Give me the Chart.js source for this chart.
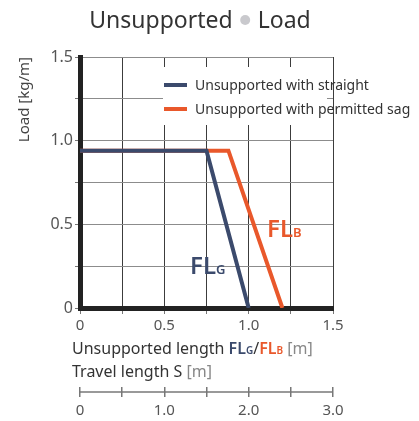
<!DOCTYPE html>
<html>
<head>
<meta charset="utf-8">
<script src="https://cdn.jsdelivr.net/npm/chart.js@4.4.0/dist/chart.umd.min.js"></script>
<style>
body { margin: 0; background: #fff; }
#wrap { width: 419px; height: 421px; }
</style>
</head>
<body>
<div id="wrap"><canvas id="loadChart"></canvas></div>
<script>
// values
const seriesNames = ['Unsupported with straight', 'Unsupported with permitted sag'];
const straightLength = [0, 0.75, 1.0];
const straightLoad = [0.94, 0.94, 0];
const sagLength = [0, 0.88, 1.2];
const sagLoad = [0.94, 0.94, 0];
const lengthTicks = ['0', '0.5', '1.0', '1.5'];
const loadTicks = ['0', '0.5', '1.0', '1.5'];
const travelTicks = ['0', '1.0', '2.0', '3.0'];

const navy = '#3b4a6c';
const orange = '#e9582b';
const FONT = '"Noto Sans", sans-serif';

Chart.defaults.font.family = FONT;

function pts(xs, ys) {
    return xs.map((x, i) => ({x: x, y: ys[i]}));
}

// draw text pieces one after another, returns end x
function runs(ctx, x, y, parts) {
    parts.forEach(p => {
        ctx.font = p.font;
        ctx.fillStyle = p.color;
        ctx.fillText(p.text, x, y);
        x += ctx.measureText(p.text).width;
    });
    return x;
}

const extras = {
    id: 'extras',
    afterDraw(chart) {
        const ctx = chart.ctx;
        const x2 = chart.scales.x2;
        ctx.save();
        ctx.textBaseline = 'alphabetic';

        // title
        ctx.font = '23px ' + FONT;
        const wU = ctx.measureText('Unsupported').width;
        const wL = ctx.measureText('Load').width;
        let tx = 200 - (wU + 25 + wL) / 2;
        ctx.fillStyle = '#333';
        ctx.fillText('Unsupported', tx, 28);
        ctx.beginPath();
        ctx.arc(tx + wU + 12.5, 20, 5, 0, Math.PI * 2);
        ctx.fillStyle = '#c9c9cd';
        ctx.fill();
        ctx.fillStyle = '#333';
        ctx.fillText('Load', tx + wU + 25, 28);

        // legend
        ctx.fillStyle = '#fff';
        ctx.fillRect(163, 67, 164, 58);
        chart.data.datasets.forEach((ds, i) => {
            const y = 85 + i * 24;
            ctx.strokeStyle = ds.borderColor;
            ctx.lineWidth = 4;
            ctx.beginPath();
            ctx.moveTo(164, y);
            ctx.lineTo(187, y);
            ctx.stroke();
            ctx.font = '14px ' + FONT;
            ctx.fillStyle = '#333';
            ctx.fillText(ds.label, 195, y + 5);
        });

        // curve labels
        runs(ctx, 190, 274, [
            {text: 'FL', font: '600 24px ' + FONT, color: navy},
            {text: 'G', font: '600 13px ' + FONT, color: navy}
        ]);
        runs(ctx, 267, 237, [
            {text: 'FL', font: '600 24px ' + FONT, color: orange},
            {text: 'B', font: '600 13px ' + FONT, color: orange}
        ]);

        // axis titles under the x axis
        runs(ctx, 72, 354, [
            {text: 'Unsupported length ', font: '16px ' + FONT, color: '#333'},
            {text: 'FL', font: '600 16px ' + FONT, color: navy},
            {text: 'G', font: '600 10px ' + FONT, color: navy},
            {text: '/', font: '16px ' + FONT, color: '#333'},
            {text: 'FL', font: '600 16px ' + FONT, color: orange},
            {text: 'B', font: '600 10px ' + FONT, color: orange},
            {text: ' [m]', font: '16px ' + FONT, color: '#888'}
        ]);
        runs(ctx, 72, 377, [
            {text: 'Travel length S ', font: '16px ' + FONT, color: '#333'},
            {text: '[m]', font: '16px ' + FONT, color: '#888'}
        ]);

        // travel length axis line
        ctx.strokeStyle = '#777';
        ctx.lineWidth = 1.5;
        ctx.beginPath();
        ctx.moveTo(x2.left, x2.top + 5);
        ctx.lineTo(x2.right, x2.top + 5);
        ctx.stroke();
        ctx.restore();
    }
};

new Chart(document.getElementById('loadChart'), {
    type: 'line',
    data: {
        datasets: [
        {
            label: seriesNames[0],
            data: pts(straightLength, straightLoad),
            borderColor: navy,
            borderWidth: 4,
            pointRadius: 0,
            borderJoinStyle: 'miter'
        },
        {
            label: seriesNames[1],
            data: pts(sagLength, sagLoad),
            borderColor: orange,
            borderWidth: 4,
            pointRadius: 0,
            borderJoinStyle: 'miter'
        }
        ]
    },
    options: {
        responsive: true,
        maintainAspectRatio: false,
        animation: false,
        layout: {
            padding: {top: 57, right: 86, left: 0, bottom: 0}
        },
        scales: {
            x: {
                type: 'linear',
                position: 'bottom',
                weight: 0,
                min: 0,
                max: 1.5,
                afterFit: s => { s.height = 79; },
                ticks: {
                    stepSize: 0.25,
                    autoSkip: false,
                    maxRotation: 0,
                    padding: 3,
                    color: '#555',
                    font: {size: 15},
                    callback: v => (v % 0.5 === 0 ? lengthTicks[v / 0.5] : '')
                },
                grid: {
                    color: '#3c3c3c',
                    tickLength: 6,
                    tickColor: '#777'
                },
                border: {color: '#222', width: 5}
            },
            x2: {
                type: 'linear',
                position: 'bottom',
                weight: 1,
                min: 0,
                max: 3,
                afterFit: s => { s.height = 34; },
                ticks: {
                    stepSize: 0.5,
                    autoSkip: false,
                    maxRotation: 0,
                    padding: 5,
                    color: '#555',
                    font: {size: 15},
                    callback: v => (v % 1 === 0 ? travelTicks[v] : '')
                },
                grid: {
                    drawOnChartArea: false,
                    tickLength: 10,
                    color: '#777',
                    lineWidth: 1.5
                },
                border: {display: false}
            },
            y: {
                min: 0,
                max: 1.5,
                afterFit: s => { s.width = 80; },
                ticks: {
                    stepSize: 0.25,
                    autoSkip: false,
                    padding: 2,
                    color: '#555',
                    font: {size: 16},
                    callback: v => (v % 0.5 === 0 ? loadTicks[v / 0.5] : '')
                },
                grid: {
                    color: '#8c8c8c',
                    tickLength: 5,
                    tickColor: '#777'
                },
                border: {color: '#222', width: 5},
                title: {
                    display: true,
                    text: 'Load [kg/m]',
                    align: 'end',
                    color: '#444',
                    font: {size: 15},
                    padding: {top: 16, bottom: 0}
                }
            }
        },
        plugins: {
            legend: {display: false},
            tooltip: {enabled: false}
        }
    },
    plugins: [extras]
});
</script>
</body>
</html>
